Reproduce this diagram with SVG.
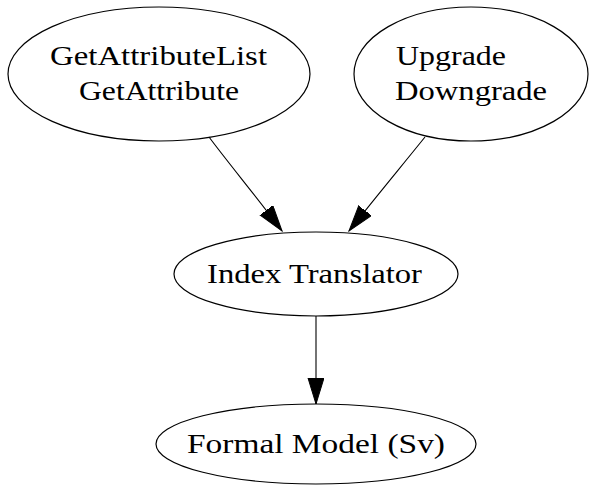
<svg xmlns="http://www.w3.org/2000/svg" width="590" height="486" viewBox="0 0 590 486">
<style>
.n{fill:none;stroke:#000;stroke-width:1.2}
.t{font-family:"Liberation Serif","Times New Roman",serif;font-size:28px;fill:#000}
.e{fill:none;stroke:#000;stroke-width:1.1}
</style>
<defs>
<marker id="ah" markerUnits="userSpaceOnUse" markerWidth="28" markerHeight="20" refX="26" refY="8" orient="auto">
<path d="M0,0 L26,8 L0,16 Z" fill="#000" stroke="#000"/>
</marker>
</defs>
<rect width="590" height="486" fill="#fff"/>
<g id="edges">
<path class="e" d="M209,137 C230,165 255,195 282,231" marker-end="url(#ah)"/>
<path class="e" d="M425,137 C400,168 375,198 349,231" marker-end="url(#ah)"/>
<path class="e" d="M316,316 L316,404" marker-end="url(#ah)"/>
</g>
<g id="getattr">
<ellipse class="n" cx="159" cy="74" rx="151" ry="67"/>
<text class="t" x="50" y="65" textLength="217" lengthAdjust="spacingAndGlyphs">GetAttributeList</text>
<text class="t" x="79" y="100" textLength="160" lengthAdjust="spacingAndGlyphs">GetAttribute</text>
</g>
<g id="upgrade">
<ellipse class="n" cx="471" cy="74" rx="117" ry="67"/>
<text class="t" x="396" y="65" textLength="110" lengthAdjust="spacingAndGlyphs">Upgrade</text>
<text class="t" x="395" y="100" textLength="152" lengthAdjust="spacingAndGlyphs">Downgrade</text>
</g>
<g id="index">
<ellipse class="n" cx="316" cy="274" rx="142" ry="42"/>
<text class="t" x="207" y="283" textLength="215" lengthAdjust="spacingAndGlyphs">Index Translator</text>
</g>
<g id="formal">
<ellipse class="n" cx="316" cy="444" rx="160" ry="40"/>
<text class="t" x="187" y="453" textLength="258" lengthAdjust="spacingAndGlyphs">Formal Model (Sv)</text>
</g>
</svg>
